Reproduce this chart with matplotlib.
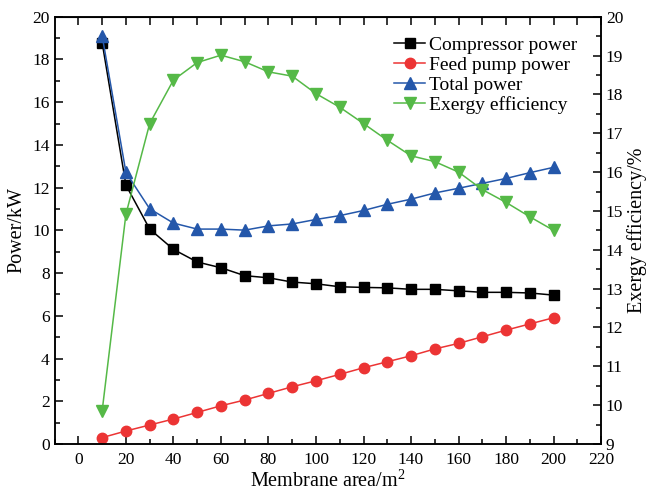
import matplotlib
matplotlib.use("Agg")
import matplotlib.pyplot as plt
from matplotlib.ticker import MultipleLocator

plt.rcParams["font.family"] = ["Liberation Serif", "DejaVu Serif"]
plt.rcParams["mathtext.fontset"] = "custom"
plt.rcParams["mathtext.rm"] = "Liberation Serif"

# membrane area, m2
AREA = [10, 20, 30, 40, 50, 60, 70, 80, 90, 100,
        110, 120, 130, 140, 150, 160, 170, 180, 190, 200]

# power, kW
COMPRESSOR = [18.78, 12.12, 10.06, 9.11, 8.52, 8.25, 7.88, 7.78, 7.58, 7.50,
              7.36, 7.33, 7.31, 7.24, 7.24, 7.17, 7.10, 7.10, 7.07, 6.97]
FEED_PUMP = [0.30, 0.61, 0.89, 1.17, 1.48, 1.79, 2.06, 2.37, 2.68, 2.96,
             3.26, 3.57, 3.85, 4.13, 4.45, 4.71, 5.02, 5.33, 5.62, 5.91]
TOTAL = [19.10, 12.71, 11.01, 10.34, 10.06, 10.06, 10.01, 10.21, 10.30, 10.51,
         10.69, 10.93, 11.22, 11.46, 11.75, 11.97, 12.20, 12.43, 12.70, 12.95]

# exergy efficiency, %
EXERGY = [9.86, 14.92, 17.25, 18.37, 18.82, 19.01, 18.84, 18.58, 18.47, 18.02,
          17.67, 17.25, 16.82, 16.42, 16.27, 16.00, 15.55, 15.22, 14.85, 14.50]

BLUE = "#2457aa"
GREEN = "#55b947"
RED = "#ec3434"

LW = 1.1
FS = 12.5


def style_ticks(ax):
    ax.tick_params(which="both", direction="in", width=LW, labelsize=FS)
    ax.tick_params(which="major", length=5.8)
    ax.tick_params(which="minor", length=3.3)


fig = plt.figure(figsize=(6.47, 4.96), dpi=100)
ax = fig.add_axes([0.0845, 0.1048, 0.8445, 0.8615])

l1, = ax.plot(AREA, COMPRESSOR, color="black", marker="s", ms=6.5, lw=LW,
              label="Compressor power")
l2, = ax.plot(AREA, FEED_PUMP, color=RED, marker="o", ms=7.5, lw=LW,
              label="Feed pump power")
l3, = ax.plot(AREA, TOTAL, color=BLUE, marker="^", ms=8, lw=LW,
              label="Total power")

ax.set_xlim(-10, 220)
ax.set_ylim(0, 20)
ax.xaxis.set_major_locator(MultipleLocator(20))
ax.xaxis.set_minor_locator(MultipleLocator(10))
ax.yaxis.set_major_locator(MultipleLocator(2))
ax.yaxis.set_minor_locator(MultipleLocator(1))
style_ticks(ax)
ax.tick_params(axis="x", which="major", pad=6)
ax.set_xlabel("Membrane area/m$^2$", fontsize=FS + 2, labelpad=1)
ax.set_ylabel("Power/kW", fontsize=FS + 2, labelpad=4)

# ticks along the top edge, every 10
top = ax.secondary_xaxis("top")
top.set_xticks(range(0, 221, 10))
top.tick_params(direction="in", length=5.8, width=LW, labeltop=False)

ax2 = ax.twinx()
l4, = ax2.plot(AREA, EXERGY, color=GREEN, marker="v", ms=8, lw=LW,
               label="Exergy efficiency")
ax2.set_ylim(9, 20)
ax2.yaxis.set_major_locator(MultipleLocator(1))
ax2.yaxis.set_minor_locator(MultipleLocator(0.5))
style_ticks(ax2)
ax2.set_ylabel("Exergy efficiency/%", fontsize=FS + 2, labelpad=3)

for a in (ax, ax2):
    for s in a.spines.values():
        s.set_linewidth(LW)

ax2.legend(handles=[l1, l2, l3, l4], loc="upper right", frameon=False,
           fontsize=FS + 1.5, handlelength=1.6, handletextpad=0.2,
           labelspacing=0.12, borderaxespad=0.4, bbox_to_anchor=(0.985, 0.99))

fig.savefig("out.png", dpi=100)
